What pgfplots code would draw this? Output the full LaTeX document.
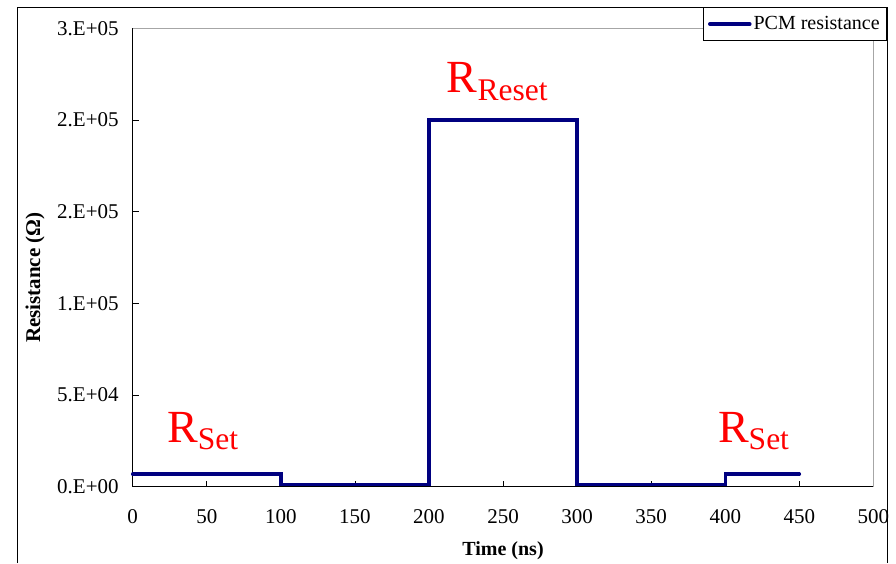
\documentclass[border=0pt]{standalone}
\usepackage{pgfplots}
\pgfplotsset{compat=1.18}
\usepackage{fontspec}
\setmainfont{Liberation Serif}
\definecolor{navyline}{RGB}{0,0,128}
\begin{document}
\begin{tikzpicture}[x=1pt,y=1pt]
\useasboundingbox (0,0) rectangle (896,-563);
\draw[line width=0.8pt] (17.3,-563) -- (17.3,-7.3) -- (887,-7.3) -- (887,-563);
\begin{axis}[
  at={(132.7pt,-486.7pt)}, anchor=south west,
  scale only axis, width=740.7pt, height=458.4pt,
  xmin=0, xmax=500, ymin=0, ymax=250000,
  clip=false,
  xtick={0,50,...,500},
  ytick={0,50000,100000,150000,200000,250000},
  yticklabels={0.E+00,5.E+04,1.E+05,2.E+05,2.E+05,3.E+05},
  scaled y ticks=false,
  axis x line*=bottom, axis y line*=left,
  tick align=inside, major tick length=6pt,
  tick style={black, line width=0.8pt},
  axis line style={line width=0.8pt},
  ticklabel style={font=\fontsize{21}{21}\selectfont},
  /pgf/number format/assume math mode=true,
  xticklabel style={yshift=-19pt},
  yticklabel style={xshift=-10.5pt},
  xlabel={Time (ns)}, ylabel={Resistance (Ω)},
  xlabel style={at={(axis description cs:0.5,-0.149)}, anchor=base, font=\fontsize{20}{20}\selectfont\bfseries},
  ylabel style={at={(axis description cs:-0.125,0.456)}, anchor=base, font=\fontsize{21}{21}\selectfont\bfseries},
  legend style={at={(1.0184,1.0458)}, anchor=north east, draw=black, line width=0.8pt,
    font=\fontsize{20}{20}\selectfont, inner xsep=5pt, inner ysep=7pt, fill=white, cells={anchor=west}},
  legend image code/.code={\draw[#1] (0pt,0pt) -- (40pt,0pt);},
]
\draw[gray!70, line width=0.8pt] (rel axis cs:0,1) -- (rel axis cs:1,1) -- (rel axis cs:1,0);
\addplot[navyline, line width=3.5pt, line join=miter, line cap=round] coordinates {
 (0,6800) (100,6800) (100,1200) (200,1200) (200,200000) (300,200000)
 (300,1200) (400,1200) (400,6800) (450,6800)};
\addlegendentry{PCM resistance}
\node[red, anchor=base west, inner sep=0] at (axis cs:23.2,24380)
  {\fontsize{46}{46}\selectfont R\raisebox{-7pt}{\fontsize{31.5}{31.5}\selectfont Set}};
\node[red, anchor=base west, inner sep=0] at (axis cs:395,24380)
  {\fontsize{46}{46}\selectfont R\raisebox{-7pt}{\fontsize{31.5}{31.5}\selectfont Set}};
\node[red, anchor=base west, inner sep=0] at (axis cs:212,215260)
  {\fontsize{46}{46}\selectfont R\raisebox{-8pt}{\fontsize{31.5}{31.5}\selectfont Reset}};
\end{axis}
\end{tikzpicture}
\end{document}
